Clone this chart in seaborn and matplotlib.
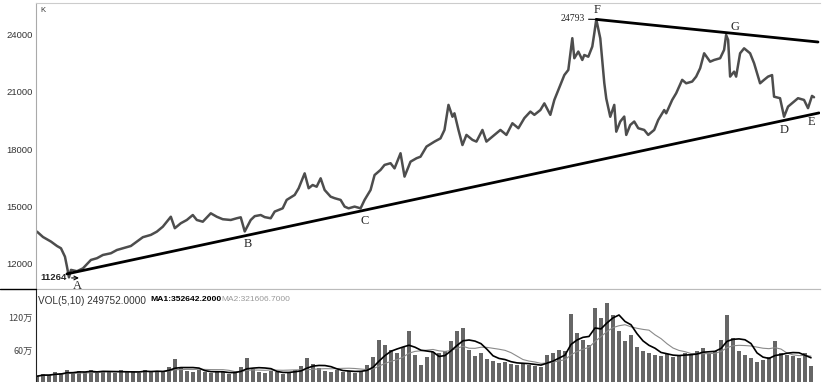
import numpy as np
import pandas as pd
import matplotlib
matplotlib.use("Agg")
import matplotlib.pyplot as plt
from matplotlib.lines import Line2D
import seaborn as sns

# price path (trading day index, close)
day = [0, 3, 7, 10, 12, 14, 15, 16, 17, 20, 23, 27, 30, 33, 37, 40, 43, 47, 50, 53,
       57, 60, 63, 67, 69, 72, 75, 78, 80, 83, 87, 90, 93, 97, 100, 102, 104, 107, 109, 112,
       114, 117, 119, 123, 125, 129, 131, 134, 136, 138, 140, 142, 144, 147, 149, 152, 154, 156, 159, 162,
       164, 167, 169, 172, 174, 177, 179, 182, 184, 187, 190, 192, 195, 199, 202, 204, 206, 208, 209, 211,
       213, 215, 218, 220, 223, 225, 229, 232, 235, 238, 241, 244, 247, 249, 252, 254, 257, 259, 262, 264,
       266, 268, 269, 271, 273, 274, 276, 278, 279, 280, 282, 284, 285, 287, 289, 290, 292, 294, 295, 297,
       299, 301, 304, 306, 309, 311, 314, 315, 318, 320, 323, 325, 328, 330, 332, 334, 337, 339, 342, 344,
       345, 346, 347, 349, 350, 352, 354, 357, 359, 362, 364, 366, 368, 369, 372, 374, 376, 379, 381, 384,
       386, 388, 389]
close = [13690, 13410, 13170, 12940, 12820, 12380, 11860, 11300, 11690, 11620, 11770, 12210, 12300, 12470, 12560, 12730, 12820, 12940, 13170, 13400,
         13520, 13690, 13950, 14470, 13870, 14130, 14300, 14560, 14300, 14210, 14650, 14470, 14340, 14300, 14390, 14440, 13700, 14300, 14500, 14560,
         14450, 14390, 14740, 14910, 15350, 15610, 15960, 16740, 15960, 16130, 16040, 16480, 15870, 15520, 15440, 15350, 15000, 14910, 15000, 14910,
         15350, 15870, 16650, 16920, 17180, 17270, 17000, 17790, 16570, 17350, 17530, 17610, 18140, 18400, 18570, 19010, 20320, 19700, 19880, 19010,
         18220, 18750, 18490, 18400, 19010, 18400, 18750, 19010, 18750, 19360, 19100, 19630, 19970, 19800, 20050, 20400, 19800, 20580, 21360, 21880,
         22150, 23810, 22760, 23110, 22670, 22930, 22840, 23370, 24060, 24793, 23800, 21470, 20650, 19700, 20320, 18920, 19450, 19710, 18750, 19270,
         19450, 19100, 19010, 18750, 19010, 19530, 20050, 19880, 20580, 20930, 21630, 21450, 21540, 21800, 22240, 23020, 22580, 22670, 22760, 23200,
         23980, 23720, 21800, 22060, 21800, 23020, 23280, 23020, 22500, 21450, 21630, 21800, 21880, 20750, 20670, 19700, 20230, 20490, 20670, 20580,
         20150, 20790, 20720]

# trend lines (support A-B-C-D-E, resistance F-G)
support_day = [15, 391.5]
support_val = [11480, 19900]
resist_day = [280, 391]
resist_val = [24793, 23610]

# volume in units of 1e4 (万), one bar per 3 trading days
volume = [14, 18, 16, 22, 20, 25, 19, 23, 21, 26, 20, 24, 22, 19, 25, 21, 23, 20, 26, 22,
          24, 21, 30, 45, 28, 24, 21, 25, 22, 19, 23, 21, 18, 22, 30, 46, 27, 22, 19, 24,
          21, 18, 22, 25, 32, 46, 36, 28, 24, 22, 26, 21, 24, 20, 23, 35, 48, 80, 70, 62,
          55, 66, 96, 52, 35, 48, 58, 55, 60, 78, 96, 100, 62, 50, 55, 45, 42, 38, 40, 36,
          34, 38, 35, 33, 30, 52, 56, 62, 60, 126, 92, 80, 70, 136, 118, 146, 125, 96, 78, 88,
          66, 60, 56, 52, 50, 54, 48, 52, 56, 54, 60, 64, 56, 60, 80, 124, 82, 60, 52, 46,
          40, 44, 48, 78, 55, 52, 50, 46, 56, 32]

vol_header = ["VOL(5,10) 249752.0000", "MA1:352642.2000", "MA2:321606.7000"]
price_ticks = [12000, 15000, 18000, 21000, 24000]
vol_ticks = [60, 120]
vol_tick_labels = ["60万", "120万"]

sns.set_style("white")
plt.rcParams['font.family'] = ['Liberation Sans', 'Noto Sans CJK SC', 'DejaVu Sans']

fig = plt.figure(figsize=(8.23, 3.82), dpi=100)
W, H = 823, 382
ax = fig.add_axes([36 / W, 93 / H, 784 / W, 286 / H])
axv = fig.add_axes([36 / W, 0, 784 / W, 93 / H])

df = pd.DataFrame({"day": day, "close": close})
sns.lineplot(data=df, x="day", y="close", ax=ax, color="#4d4d4d", linewidth=1.8)
sns.lineplot(x=support_day, y=support_val, ax=ax, color="black", linewidth=2)
sns.lineplot(x=resist_day, y=resist_val, ax=ax, color="black", linewidth=2)

ax.set_xlim(-0.5, 392)
ax.set_ylim(10690, 25650)
ax.set_xticks([])
ax.set_yticks(price_ticks)
ax.set_yticklabels([str(t) for t in price_ticks])
ax.tick_params(axis="y", length=0, pad=2.5, labelsize=6.8, labelcolor="#333333")
ax.set_xlabel("")
ax.set_ylabel("")
ax.spines["right"].set_visible(False)
ax.spines["left"].set_color("#aaaaaa")
ax.spines["top"].set_color("#cccccc")
ax.spines["bottom"].set_color("#bbbbbb")
ax.text(0.005, 0.985, "K", transform=ax.transAxes, fontsize=5.5, va="top", ha="left", color="#333333")

serif = ["Liberation Serif", "DejaVu Serif"]
letters = [("A", 20, 10850), ("B", 105.5, 13046), ("C", 164, 14249), ("D", 374, 19008),
           ("E", 387.5, 19427), ("F", 280.5, 25284), ("G", 349.5, 24395)]
for lab, dx, dy in letters:
    ax.text(dx, dy, lab, family=serif, fontsize=9, ha="center", va="center", clip_on=False)
ax.annotate("24793", xy=(280, 24793), xytext=(274.5, 24814), family=serif, fontsize=7,
            ha="right", va="center", arrowprops=dict(arrowstyle="-", lw=0.8, color="black",
                                                     shrinkA=0, shrinkB=0))
ax.annotate("11264", xy=(21, 11268), xytext=(15, 11268), fontsize=6.8, fontweight="bold",
            ha="right", va="center", arrowprops=dict(arrowstyle="->", lw=0.8, color="black",
                                                     shrinkA=1, shrinkB=0))

# volume panel
vdf = pd.DataFrame({"i": np.arange(len(volume)), "vol": volume})
vdf["ma1"] = vdf["vol"].rolling(5, min_periods=1).mean()
vdf["ma2"] = vdf["vol"].rolling(10, min_periods=1).mean()
sns.barplot(data=vdf, x="i", y="vol", ax=axv, color="#666666", width=0.8,
            saturation=1, order=list(vdf["i"]), linewidth=0, edgecolor="none")
sns.lineplot(x=vdf["i"].to_numpy(), y=vdf["ma2"].to_numpy(), ax=axv, color="#8a8a8a", linewidth=0.8)
sns.lineplot(x=vdf["i"].to_numpy(), y=vdf["ma1"].to_numpy(), ax=axv, color="black", linewidth=1.2)
axv.set_xlim(-0.17, 130.5)
axv.set_ylim(3.6, 171)
axv.set_xticks([])
axv.set_yticks(vol_ticks)
axv.set_yticklabels(vol_tick_labels)
axv.tick_params(axis="y", length=0, pad=2.5, labelsize=6.5, labelcolor="#444444")
for lab in axv.get_yticklabels():
    lab.set_family(["Noto Sans CJK SC", "DejaVu Sans"])
axv.set_xlabel("")
axv.set_ylabel("")
axv.spines["right"].set_visible(False)
axv.spines["bottom"].set_visible(False)
axv.spines["top"].set_color("#bbbbbb")
axv.spines["left"].set_color("#222222")

hx = [(38 - 36) / 784, (150 - 36) / 784, (221 - 36) / 784]
hstyle = [dict(color="#333333", fontsize=7.2), dict(color="black", fontweight="bold", fontsize=6.1),
          dict(color="#999999", fontsize=6.0)]
for txt, x0, st in zip(vol_header, hx, hstyle):
    axv.text(x0, 0.93, txt, transform=axv.transAxes, va="top", ha="left", **st)

fig.add_artist(Line2D([0, 36 / W], [93 / H, 93 / H], color="black", lw=1))

fig.savefig("out.png", dpi=100)
